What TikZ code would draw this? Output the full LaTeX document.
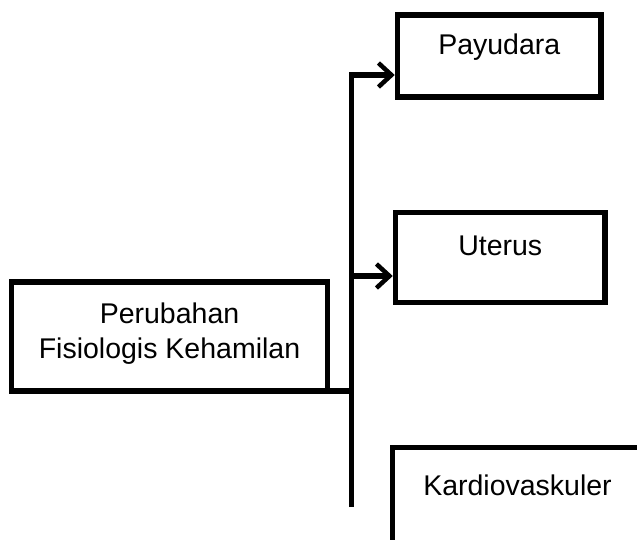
\documentclass[tikz,border=0pt]{standalone}
\usepackage{fontspec}
\setmainfont{Liberation Sans}
\usetikzlibrary{arrows.meta,calc}
\begin{document}
\begin{tikzpicture}[x=1pt,y=-1pt,
  boxline/.style={draw=black,line width=5.5pt,rectangle,inner sep=0pt},
  txt/.style={font=\fontsize{28.5}{35}\selectfont,inner sep=0pt,text=black},
  conn/.style={draw=black,line width=5.5pt},
  arr/.style={conn,-{Straight Barb[length=13pt,width=24pt,line width=4.5pt]}}]
\useasboundingbox (0,0) rectangle (637,540);
% main box
\node[boxline,minimum width=316pt,minimum height=109pt] (m) at (169.5,336.5) {};
\node[txt,align=center,anchor=base] (mt) at (169.5,358) {Perubahan\\Fisiologis Kehamilan};
% target boxes
\node[boxline,minimum width=203.5pt,minimum height=82pt] (p) at (499.25,56) {};
\node[txt,anchor=base] (pt) at (499.25,55) {Payudara};
\node[boxline,minimum width=209.5pt,minimum height=90pt] (u) at (500.25,257.5) {};
\node[txt,anchor=base] (ut) at (500.25,255) {Uterus};
% open Kardiovaskuler box
\coordinate (kc) at (392.5,447.5);
\coordinate (kb) at (392.5,545);
\coordinate (kr) at (645,447.5);
\draw[conn,line cap=rect] (kb) -- (kc) -- (kr);
\node[txt,anchor=base] (kt) at (517.5,495) {Kardiovaskuler};
% trunk
\coordinate (tb) at (351.5,507);
\coordinate (a1) at (351.5,75);
\coordinate (a2) at (349,276);
\coordinate (mj) at ($(m.south east)+(-2.75,-2.75)$);
\draw[conn] (mj) -- (mj -| tb);
\draw[arr,line join=miter] (tb) -- (a1) -- (a1 -| p.west);
\draw[arr] (a2) -- (a2 -| u.west);
\end{tikzpicture}
\end{document}
